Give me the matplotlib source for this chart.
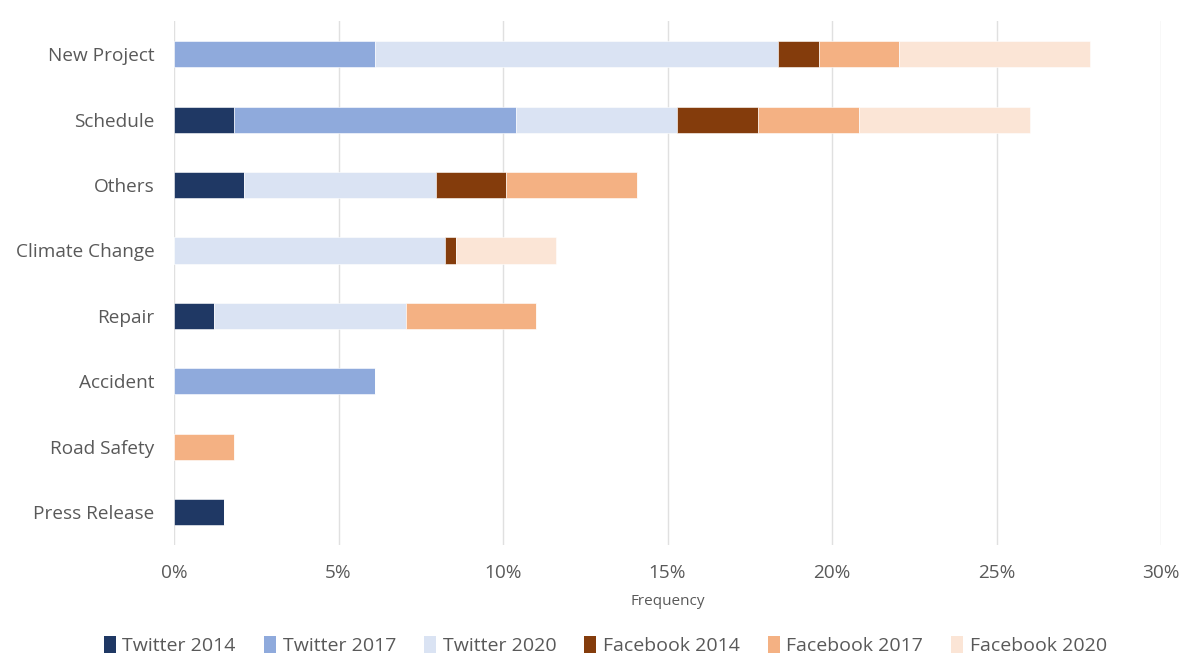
import matplotlib
matplotlib.use("Agg")
import matplotlib.pyplot as plt
from matplotlib.patches import Patch
from matplotlib.ticker import FuncFormatter

plt.rcParams['font.family'] = ['Open Sans', 'DejaVu Sans']

categories = ["New Project", "Schedule", "Others", "Climate Change", "Repair",
              "Accident", "Road Safety", "Press Release"]

series_names = ["Twitter 2014", "Twitter 2017", "Twitter 2020",
                "Facebook 2014", "Facebook 2017", "Facebook 2020"]

# Share of posts (%) per topic, per platform and year
twitter_2014 = [0.00, 1.83, 2.13, 0.00, 1.21, 0.00, 0.00, 1.52]
twitter_2017 = [6.11, 8.57, 0.00, 0.00, 0.00, 6.11, 0.00, 0.00]
twitter_2020 = [12.25, 4.89, 5.82, 8.25, 5.83, 0.00, 0.00, 0.00]
facebook_2014 = [1.23, 2.46, 2.15, 0.31, 0.00, 0.00, 0.00, 0.00]
facebook_2017 = [2.45, 3.07, 3.97, 0.00, 3.97, 0.00, 1.83, 0.00]
facebook_2020 = [5.81, 5.20, 0.00, 3.06, 0.00, 0.00, 0.00, 0.00]

x_ticks = [0, 5, 10, 15, 20, 25, 30]

colors = ["#1F3864", "#8FAADC", "#DAE3F3", "#843C0C", "#F4B183", "#FBE5D6"]
series = [twitter_2014, twitter_2017, twitter_2020,
          facebook_2014, facebook_2017, facebook_2020]

fig = plt.figure(figsize=(11.92, 6.70), dpi=100)
ax = fig.add_axes([0.146, 0.1866, 0.828, 0.7814])

y = list(range(len(categories)))
left = [0.0] * len(categories)
for vals, col, name in zip(series, colors, series_names):
    ax.barh(y, vals, left=left, height=0.4, color=col, label=name,
            edgecolor="white", linewidth=0.4, zorder=3)
    left = [a + b for a, b in zip(left, vals)]

ax.set_xlim(0, 30)
ax.set_ylim(len(categories) - 0.5, -0.5)
ax.set_yticks(y)
ax.set_yticklabels(categories)
ax.set_xticks(x_ticks)
ax.xaxis.set_major_formatter(FuncFormatter(lambda v, p: f"{v:.0f}%"))

for s in ax.spines.values():
    s.set_visible(False)
ax.grid(axis="x", color="#E0E0E0", linewidth=1, zorder=0)
ax.tick_params(axis="both", length=0, labelsize=13.7, colors="#595959")
ax.tick_params(axis="x", pad=14)
ax.tick_params(axis="y", pad=14)
ax.set_xlabel("Frequency", fontsize=11, color="#595959", labelpad=8)

handles = [Patch(facecolor=c, edgecolor="none") for c in colors]
fig.legend(handles, series_names, loc="center", bbox_to_anchor=(0.508, 0.036),
           ncol=6, frameon=False, fontsize=14, labelcolor="#595959",
           handlelength=0.6, handleheight=0.9, handletextpad=0.35,
           columnspacing=1.45)

fig.savefig("out.png", dpi=100)
